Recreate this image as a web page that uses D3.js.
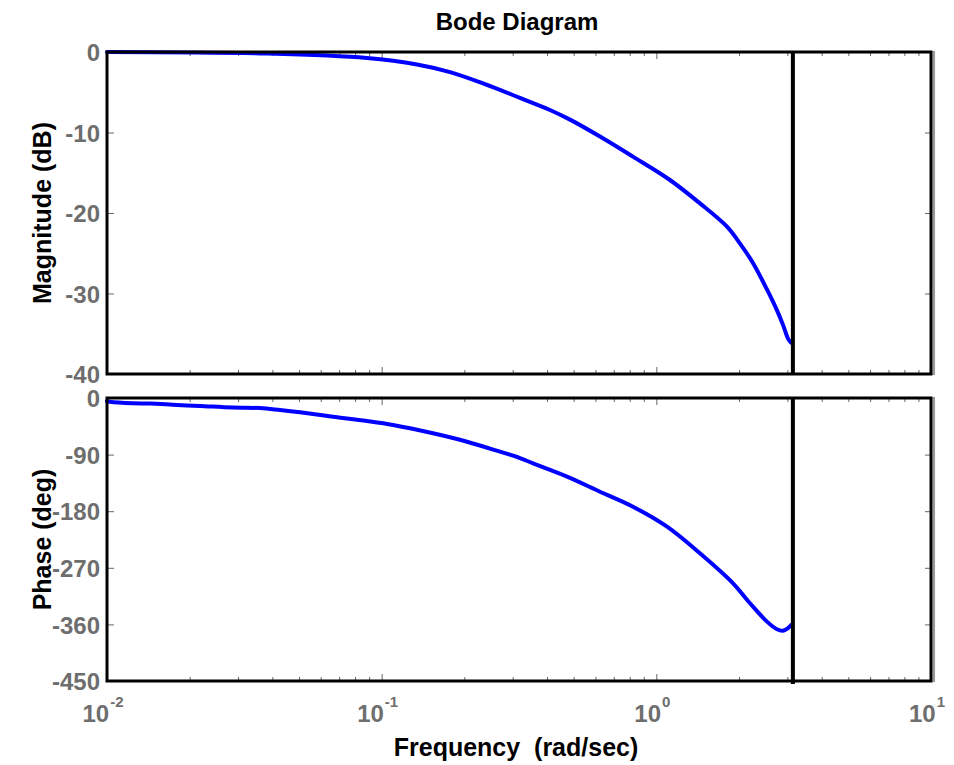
<!DOCTYPE html>
<html>
<head>
<meta charset="utf-8">
<script src="https://cdn.jsdelivr.net/npm/d3@7"></script>
<style>
  html, body { margin: 0; padding: 0; background: #fff; }
  svg { display: block; }
  text { font-family: "Liberation Sans", Arial, Helvetica, sans-serif; font-weight: bold; }
</style>
</head>
<body>
<svg id="chart" width="954" height="765"></svg>
<script>
// ---- data ----
const magFreq = [0.01, 0.0383, 0.0884, 0.1345, 0.1774, 0.2338, 0.3188, 0.410, 0.485, 0.6236, 0.822, 1.121, 1.441, 1.808, 2.017, 2.248, 2.528, 2.750, 2.892, 3.016, 3.093];
const magDb   = [0, -0.2, -0.75, -1.55, -2.5, -3.9, -5.7, -7.2, -8.4, -10.5, -13.0, -15.9, -18.8, -21.7, -23.8, -26.2, -29.5, -32.1, -33.9, -35.6, -36.1];
const phaseFreq = [0.01, 0.01025, 0.01243, 0.01434, 0.01799, 0.02181, 0.02876, 0.03606, 0.04263, 0.05043, 0.06648, 0.0884, 0.11, 0.1538, 0.2045, 0.2697, 0.3188, 0.3556, 0.4729, 0.6236, 0.822, 1.094, 1.441, 1.902, 2.193, 2.528, 2.750, 2.892, 3.016, 3.093];
const phaseDeg  = [-5, -6, -8.4, -8.8, -11.1, -12.7, -15.2, -16, -19.1, -22.7, -29.7, -36.6, -42.9, -56.1, -69.5, -85.4, -95.5, -104, -125.1, -149, -172.8, -204.6, -246.9, -294.6, -326.4, -355.6, -367.7, -370, -366, -361];
const nyquistFreq = 3.1416;
const magTicks = [0, -10, -20, -30, -40];
const phaseTicks = [0, -90, -180, -270, -360, -450];
const freqDecades = [0.01, 0.1, 1, 10];
const decadeLabels = ["-2", "-1", "0", "1"];
const titleText = "Bode Diagram";
const xLabelText = "Frequency  (rad/sec)";
const magLabelText = "Magnitude (dB)";
const phaseLabelText = "Phase (deg)";

// ---- layout ----
const svg = d3.select("#chart");
const L = 107, R = 931;
const magTop = 52, magBot = 374;
const phTop = 398, phBot = 681;
const tickGray = "#666";
const labelGray = "#6e6e6e";

const x = d3.scaleLog().domain([0.01, 10]).range([L, R]);
const yMag = d3.scaleLinear().domain([-40, 0]).range([magBot, magTop]);
const yPh = d3.scaleLinear().domain([-450, 0]).range([phBot, phTop]);

const minorTicks = [];
for (let d = 0; d < 3; d++) {
  for (let k = 2; k <= 9; k++) minorTicks.push(freqDecades[d] * k);
}

function panel(yScale, yTicks, top, bot, freq, vals, showXLabels) {
  const g = svg.append("g");
  const xb = d3.axisBottom(x).tickValues(minorTicks).tickSize(-4).tickFormat("");
  const xt = d3.axisTop(x).tickValues(minorTicks).tickSize(-4).tickFormat("");
  const xbM = d3.axisBottom(x).tickValues(freqDecades).tickSize(-7).tickFormat("");
  const xtM = d3.axisTop(x).tickValues(freqDecades).tickSize(-7).tickFormat("");
  [[xb, bot], [xt, top], [xbM, bot], [xtM, top]].forEach(([ax, yy]) => {
    const a = g.append("g").attr("transform", `translate(0,${yy})`).call(ax);
    a.select(".domain").remove();
    a.selectAll("line").attr("stroke", tickGray).attr("stroke-width", 1);
  });
  const yl = d3.axisLeft(yScale).tickValues(yTicks).tickSize(-7).tickFormat(d3.format("d"));
  const yr = d3.axisRight(yScale).tickValues(yTicks).tickSize(-6).tickFormat("");
  const al = g.append("g").attr("transform", `translate(${L},0)`).call(yl);
  const ar = g.append("g").attr("transform", `translate(${R},0)`).call(yr);
  [al, ar].forEach(a => {
    a.select(".domain").remove();
    a.selectAll("line").attr("stroke", tickGray).attr("stroke-width", 1);
  });
  al.selectAll("text")
    .attr("fill", labelGray)
    .attr("font-size", 24)
    .attr("font-weight", "bold")
    .attr("font-family", "'Liberation Sans', Arial, sans-serif")
    .attr("dy", "0.36em")
    .attr("x", -7)
    .text(d => d === 0 ? "0" : "-" + Math.abs(d));

  const line = d3.line()
    .x(d => x(d[0]))
    .y(d => yScale(d[1]))
    .curve(d3.curveCatmullRom.alpha(0.5));
  const pts = freq.map((f, i) => [f, vals[i]]);
  g.append("path")
    .datum(pts)
    .attr("d", line)
    .attr("fill", "none")
    .attr("stroke", "#0000ff")
    .attr("stroke-width", 4)
    .attr("stroke-linejoin", "round")
    .attr("stroke-linecap", "round");

  g.append("line")
    .attr("x1", x(nyquistFreq)).attr("x2", x(nyquistFreq))
    .attr("y1", top).attr("y2", bot + (showXLabels ? 3 : 0))
    .attr("stroke", "#000").attr("stroke-width", 4);

  g.append("line").attr("x1", R + 2.8).attr("x2", R + 2.8).attr("y1", top - 1).attr("y2", bot + 1)
    .attr("stroke", "#999").attr("stroke-width", 2.5);
  g.append("rect")
    .attr("x", L).attr("y", top)
    .attr("width", R - L).attr("height", bot - top)
    .attr("fill", "none").attr("stroke", "#000").attr("stroke-width", 3);

  if (showXLabels) {
    freqDecades.forEach((f, i) => {
      const t = g.append("text")
        .attr("x", x(f) - 4)
        .attr("y", 722)
        .attr("text-anchor", "middle")
        .attr("fill", labelGray)
        .attr("font-size", 24);
      t.append("tspan").text("10");
      t.append("tspan").attr("font-size", 15).attr("dy", -15).attr("dx", 1).text(decadeLabels[i]);
    });
  }
}

panel(yMag, magTicks, magTop, magBot, magFreq, magDb, false);
panel(yPh, phaseTicks, phTop, phBot, phaseFreq, phaseDeg, true);

svg.append("text").attr("x", (L + R) / 2 - 2).attr("y", 30)
  .attr("text-anchor", "middle").attr("font-size", 24).attr("fill", "#000").text(titleText);
svg.append("text").attr("x", (L + R) / 2 - 3).attr("y", 756)
  .attr("text-anchor", "middle").attr("font-size", 25).attr("fill", "#000")
  .attr("xml:space", "preserve").style("white-space", "pre").text(xLabelText);
svg.append("text").attr("transform", `translate(51,${(magTop + magBot) / 2}) rotate(-90)`)
  .attr("text-anchor", "middle").attr("font-size", 25).attr("fill", "#000").text(magLabelText);
svg.append("text").attr("transform", `translate(51,${(phTop + phBot) / 2}) rotate(-90)`)
  .attr("text-anchor", "middle").attr("font-size", 25).attr("fill", "#000").text(phaseLabelText);
</script>
</body>
</html>
